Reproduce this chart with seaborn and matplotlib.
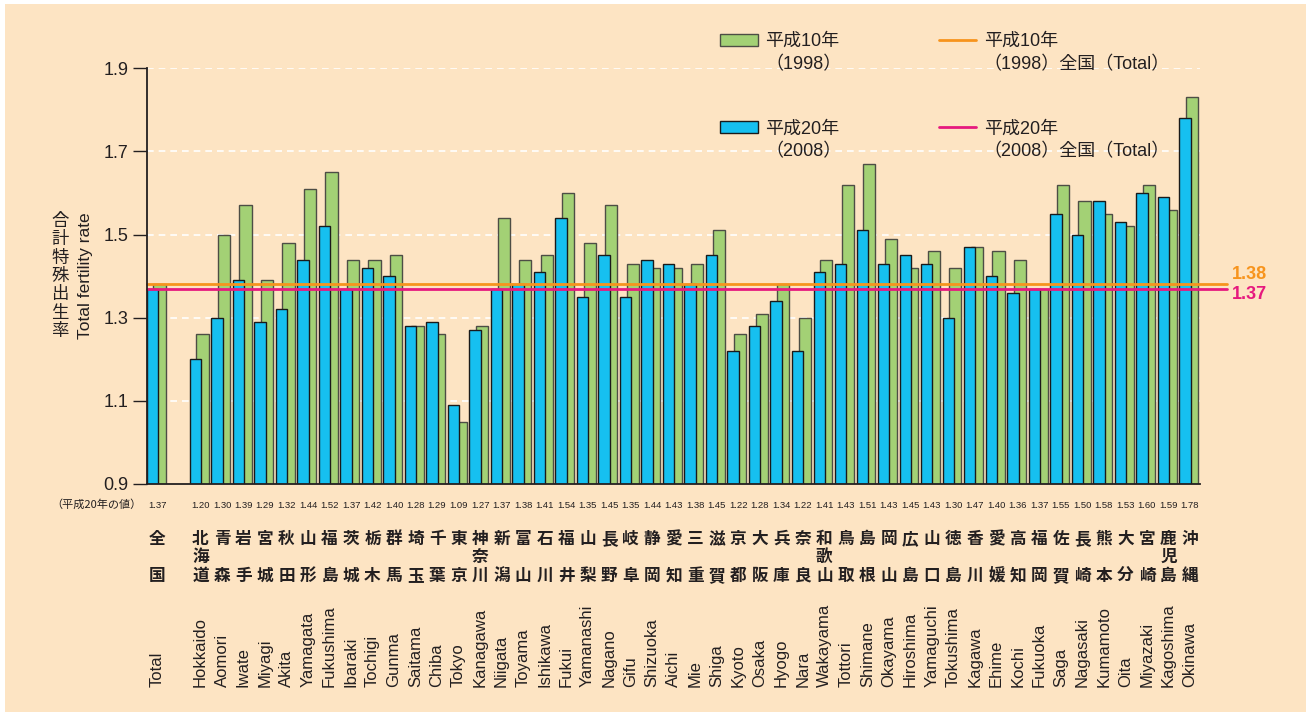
import numpy as np
import pandas as pd
import matplotlib
matplotlib.use("Agg")
import matplotlib.pyplot as plt
import matplotlib.transforms as mtransforms
from matplotlib.patches import Rectangle
import seaborn as sns

# ---------------- data ----------------
regions_ja = ["全国", "北海道", "青森", "岩手", "宮城", "秋田", "山形", "福島", "茨城", "栃木",
              "群馬", "埼玉", "千葉", "東京", "神奈川", "新潟", "富山", "石川", "福井", "山梨",
              "長野", "岐阜", "静岡", "愛知", "三重", "滋賀", "京都", "大阪", "兵庫", "奈良",
              "和歌山", "鳥取", "島根", "岡山", "広島", "山口", "徳島", "香川", "愛媛", "高知",
              "福岡", "佐賀", "長崎", "熊本", "大分", "宮崎", "鹿児島", "沖縄"]
regions_en = ["Total", "Hokkaido", "Aomori", "Iwate", "Miyagi", "Akita", "Yamagata", "Fukushima",
              "Ibaraki", "Tochigi", "Gunma", "Saitama", "Chiba", "Tokyo", "Kanagawa", "Niigata",
              "Toyama", "Ishikawa", "Fukui", "Yamanashi", "Nagano", "Gifu", "Shizuoka", "Aichi",
              "Mie", "Shiga", "Kyoto", "Osaka", "Hyogo", "Nara", "Wakayama", "Tottori", "Shimane",
              "Okayama", "Hiroshima", "Yamaguchi", "Tokushima", "Kagawa", "Ehime", "Kochi",
              "Fukuoka", "Saga", "Nagasaki", "Kumamoto", "Oita", "Miyazaki", "Kagoshima", "Okinawa"]
tfr_2008 = [1.37, 1.20, 1.30, 1.39, 1.29, 1.32, 1.44, 1.52, 1.37, 1.42, 1.40, 1.28, 1.29, 1.09,
            1.27, 1.37, 1.38, 1.41, 1.54, 1.35, 1.45, 1.35, 1.44, 1.43, 1.38, 1.45, 1.22, 1.28,
            1.34, 1.22, 1.41, 1.43, 1.51, 1.43, 1.45, 1.43, 1.30, 1.47, 1.40, 1.36, 1.37, 1.55,
            1.50, 1.58, 1.53, 1.60, 1.59, 1.78]
tfr_1998 = [1.38, 1.26, 1.50, 1.57, 1.39, 1.48, 1.61, 1.65, 1.44, 1.44, 1.45, 1.28, 1.26, 1.05,
            1.28, 1.54, 1.44, 1.45, 1.60, 1.48, 1.57, 1.43, 1.42, 1.42, 1.43, 1.51, 1.26, 1.31,
            1.38, 1.30, 1.44, 1.62, 1.67, 1.49, 1.42, 1.46, 1.42, 1.47, 1.46, 1.44, 1.37, 1.62,
            1.58, 1.55, 1.52, 1.62, 1.56, 1.83]
national_1998 = 1.38
national_2008 = 1.37
yticks = [0.9, 1.1, 1.3, 1.5, 1.7, 1.9]
ylabel_ja = "合計特殊出生率"
ylabel_en = "Total fertility rate"
value_row_label = "（平成20年の値）"
legend_main = ["平成10年", "平成20年", "平成10年", "平成20年"]
legend_sub = ["（1998）", "（2008）", "（1998）全国（Total）", "（2008）全国（Total）"]

# ---------------- style ----------------
BG = "#FDE4C3"
BLUE = "#16C0F0"
GREEN = "#A3D175"
ORANGE = "#F7941D"
PINK = "#E6197E"
TXT = "#231F20"

sns.set_theme(style="white")
plt.rcParams["font.family"] = ["Liberation Sans", "Noto Sans CJK JP", "DejaVu Sans"]
plt.rcParams["text.color"] = TXT
plt.rcParams["axes.unicode_minus"] = False

W, H = 1306, 712
fig = plt.figure(figsize=(W / 100, H / 100), dpi=100)
fig.patch.set_facecolor("white")
fig.add_artist(Rectangle((5 / W, 0), 1 - 5 / W, 1 - 4 / H, transform=fig.transFigure,
                         facecolor=BG, edgecolor="none", zorder=-10))

ax_l, ax_r, ax_t, ax_b = 146.7, 1200.0, 68.3, 484.0
ax = fig.add_axes([ax_l / W, 1 - ax_b / H, (ax_r - ax_l) / W, (ax_b - ax_t) / H])
ax.set_facecolor("none")

# slot index: Total at 0, empty slot 1, prefectures from 2
slots = np.r_[0, np.arange(2, 2 + len(regions_en) - 1)]
df = pd.DataFrame({"slot": slots, "ja": regions_ja, "en": regions_en,
                   "v2008": tfr_2008, "v1998": tfr_1998})
df["x1998"] = df["slot"] + 0.095
df["x2008"] = df["slot"] - 0.235

sns.barplot(data=df, x="x1998", y="v1998", native_scale=True, orient="x", width=0.57,
            color=GREEN, edgecolor="#4d4d45", linewidth=1.0, errorbar=None,
            saturation=1, ax=ax, zorder=2)
sns.barplot(data=df, x="x2008", y="v2008", native_scale=True, orient="x", width=0.53,
            color=BLUE, edgecolor="#1a1a1a", linewidth=1.0, errorbar=None,
            saturation=1, ax=ax, zorder=3)
if ax.get_legend() is not None:
    ax.get_legend().remove()

ax.set_xlim(-0.5, -0.5 + (ax_r - ax_l) / 21.51)
ax.set_ylim(0.9, 1.9)
ax.set_yticks(yticks)
ax.set_yticklabels([f"{t:.1f}" for t in yticks], fontsize=13, color=TXT)
ax.set_xticks([])
ax.set_xlabel("")
ax.set_ylabel("")
ax.tick_params(axis="y", direction="out", length=10, width=1.0, color=TXT, pad=3, left=True)
for s in ["top", "right"]:
    ax.spines[s].set_visible(False)
for s in ["left", "bottom"]:
    ax.spines[s].set_color(TXT)
    ax.spines[s].set_linewidth(1.3)
    ax.spines[s].set_zorder(6)

# dashed white grid
for t in yticks[1:]:
    ax.axhline(t, color="white", lw=1.2, ls=(0, (4, 3)), zorder=0.5)

# national lines
ext = (1227 - ax_l) / (ax_r - ax_l)
l98 = ax.axhline(national_1998, xmin=0, xmax=ext, color=ORANGE, lw=2.0, clip_on=False, zorder=5)
l08 = ax.axhline(national_2008, xmin=0, xmax=ext, color=PINK, lw=2.0, clip_on=False, zorder=5)
bt = mtransforms.blended_transform_factory(ax.transAxes, ax.transData)
lx = (1232 - ax_l) / (ax_r - ax_l)
ax.annotate(f"{national_1998:.2f}", (lx, national_1998), xycoords=bt, xytext=(0, 7),
            textcoords="offset points", color=ORANGE, fontsize=13, fontweight="bold",
            ha="left", va="center", annotation_clip=False)
ax.annotate(f"{national_2008:.2f}", (lx, national_2008), xycoords=bt, xytext=(0, -4),
            textcoords="offset points", color=PINK, fontsize=13, fontweight="bold",
            ha="left", va="center", annotation_clip=False)

# value row and region labels
tx = mtransforms.blended_transform_factory(ax.transData, fig.transFigure)
fig.text(142 / W, 1 - 505 / H, value_row_label, ha="right", va="center", fontsize=8,
         family=["Noto Sans CJK JP"])
for _, r in df.iterrows():
    ax.text(r.slot, 1 - 505 / H, f"{r.v2008:.2f}", transform=tx, ha="center", va="center",
            fontsize=6.8, family=["Liberation Sans"])
    ja = r.ja
    rows = [539, 576] if len(ja) == 2 else [539, 557, 576]
    for ch, yy in zip(ja, rows):
        ax.text(r.slot, 1 - yy / H, ch, transform=tx, ha="center", va="center",
                fontsize=12, fontweight="bold", family=["Noto Sans CJK JP"])
    ax.text(r.slot, 1 - 687 / H, r.en, transform=tx, ha="center", va="bottom",
            rotation=90, fontsize=12)

# y label: stacked kanji + rotated English
n = len(ylabel_ja)
for i, ch in enumerate(ylabel_ja):
    yy = 221 + i * (331 - 221) / (n - 1)
    fig.text(60 / W, 1 - yy / H, ch, ha="center", va="center", fontsize=12.5,
             family=["Noto Sans CJK JP"])
fig.text(85 / W, 1 - 276 / H, ylabel_en, ha="center", va="center",
         rotation=90, fontsize=12.5)

# legend
handles = [ax.containers[0], ax.containers[1], l98, l08]
leg = fig.legend(handles, legend_main, ncol=2, loc="upper left",
                 bbox_to_anchor=(720 / W, 1 - 33 / H), frameon=False, fontsize=13,
                 handlelength=2.1, handleheight=0.65, handletextpad=0.4,
                 columnspacing=5.5, labelspacing=3.9, borderpad=0, borderaxespad=0)
fig.canvas.draw()
for t, sub in zip(leg.get_texts(), legend_sub):
    bb = t.get_window_extent()
    fig.text(bb.x0 / W, ((bb.y0 + bb.y1) / 2 - 23) / H, sub, ha="left", va="center",
             fontsize=13)

fig.savefig("out.png", dpi=100, facecolor=fig.get_facecolor())
